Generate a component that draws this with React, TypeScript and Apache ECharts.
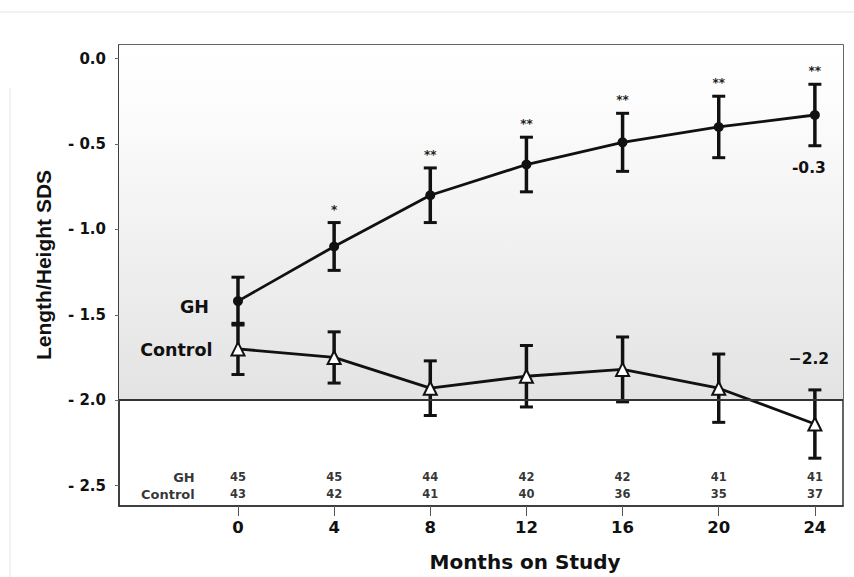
import React, { useEffect, useRef } from "react";
import * as echarts from "echarts";

const months = [0, 4, 8, 12, 16, 20, 24];
const ghMean = [-1.42, -1.1, -0.8, -0.62, -0.49, -0.4, -0.33];
const ghSE = [0.14, 0.14, 0.16, 0.16, 0.17, 0.18, 0.18];
const controlMean = [-1.7, -1.75, -1.93, -1.86, -1.82, -1.93, -2.14];
const controlSE = [0.15, 0.15, 0.16, 0.18, 0.19, 0.2, 0.2];
const significance = ["", "*", "**", "**", "**", "**", "**"];
const ghN = [45, 45, 44, 42, 42, 41, 41];
const controlN = [43, 42, 41, 40, 36, 35, 37];
const yTicks = [0, -0.5, -1.0, -1.5, -2.0, -2.5];
const endLabels = ["-0.3", "\u22122.2"];
const seriesNames = ["GH", "Control"];

const F = "'DejaVu Sans', sans-serif";
const FY = "'Liberation Sans', Arial, sans-serif";
const INK = "#111";

function errorSeries(means: number[], ses: number[], sigs: string[], name: string) {
  return {
    type: "custom",
    name: name + " SE",
    z: 3,
    silent: true,
    data: means.map((m, i) => [months[i], m, ses[i]]),
    renderItem: (params: any, api: any) => {
      const x = api.value(0);
      const m = api.value(1);
      const se = api.value(2);
      const top = api.coord([x, m + se]);
      const bot = api.coord([x, m - se]);
      const hw = 6.5;
      const children: any[] = [
        { type: "line", shape: { x1: top[0], y1: top[1], x2: bot[0], y2: bot[1] }, style: { stroke: INK, lineWidth: 3.5 } },
        { type: "line", shape: { x1: top[0] - hw, y1: top[1], x2: top[0] + hw, y2: top[1] }, style: { stroke: INK, lineWidth: 3 } },
        { type: "line", shape: { x1: bot[0] - hw, y1: bot[1], x2: bot[0] + hw, y2: bot[1] }, style: { stroke: INK, lineWidth: 3 } },
      ];
      const s = sigs[params.dataIndex];
      if (s) {
        children.push({
          type: "text",
          x: top[0],
          y: top[1] - 13,
          style: { text: s, fill: "#222", font: `bold 12px ${F}`, textAlign: "center", textVerticalAlign: "middle" },
        });
      }
      return { type: "group", children };
    },
  };
}

function countSeries(name: string, counts: number[], rowY: number) {
  return {
    type: "scatter",
    name: name + " N",
    symbolSize: 0,
    silent: true,
    z: 5,
    data: [
      {
        value: [-1.8, rowY],
        label: { show: true, position: "left", distance: 0, formatter: name, fontFamily: F, fontWeight: "bold", fontSize: 13, color: "#000" },
      },
      ...counts.map((n, i) => ({
        value: [months[i], rowY, n],
        label: { show: true, position: "inside", formatter: String(n), fontFamily: F, fontWeight: "bold", fontSize: 11.5, color: "#000" },
      })),
    ],
  };
}

export default function App() {
  const ref = useRef<HTMLDivElement>(null);
  useEffect(() => {
    if (!ref.current) return;
    const chart = echarts.init(ref.current, undefined, { renderer: "svg" });
    const last = months.length - 1;
    const option: any = {
      animation: false,
      backgroundColor: "#fff",
      grid: { left: 119, right: 11, top: 45, bottom: 71, show: true, borderColor: "#333", borderWidth: 1.5 },
      xAxis: {
        type: "value",
        min: -4.95,
        max: 25.17,
        splitLine: { show: false },
        axisLine: { show: true, onZero: false, lineStyle: { color: "#333", width: 1.5 } },
        axisTick: { show: true, customValues: months, length: 10, lineStyle: { color: "#555" } },
        axisLabel: { customValues: months, margin: 13, fontFamily: F, fontWeight: "bold", fontSize: 16.5, color: INK },
      },
      yAxis: {
        type: "value",
        min: -2.62,
        max: 0.08,
        splitLine: { show: false },
        axisLine: { show: true, onZero: false, lineStyle: { color: "#333", width: 1.5 } },
        axisTick: { show: true, customValues: yTicks, length: 4, lineStyle: { color: "#666" } },
        axisLabel: {
          customValues: yTicks,
          margin: 13,
          fontFamily: F,
          fontWeight: "bold",
          fontSize: 15,
          color: INK,
          formatter: (v: number) => (Math.abs(v) < 1e-9 ? "0.0" : "- " + Math.abs(v).toFixed(1)),
        },
      },
      graphic: [
        { type: "line", shape: { x1: 0, y1: 12, x2: 854, y2: 12 }, style: { stroke: "#e4e4e4", lineWidth: 1 }, silent: true },
        { type: "line", shape: { x1: 10, y1: 88, x2: 10, y2: 577 }, style: { stroke: "#e4e4e4", lineWidth: 1 }, silent: true },
        { type: "text", x: 138, y: 68, style: { text: "Mean\u00a0\u00a0\u00b1 SE", font: `bold 13.5px ${F}`, fill: INK, textVerticalAlign: "middle" } },
        { type: "text", x: 140, y: 98, style: { text: "*p < 0.05; ** p < 0.0001", font: `bold 13.5px ${F}`, fill: INK, textVerticalAlign: "middle" } },
        { type: "text", x: 525, y: 562, style: { text: "Months on Study", font: `bold 20px ${F}`, fill: INK, textAlign: "center", textVerticalAlign: "middle" } },
        {
          type: "text",
          x: 43,
          y: 265,
          rotation: Math.PI / 2,
          style: { text: "Length/Height SDS", font: `bold 21px ${FY}`, fill: INK, textAlign: "center", textVerticalAlign: "middle" },
        },
      ],
      series: [
        {
          type: "line",
          name: "background",
          data: [],
          z: 1,
          silent: true,
          markArea: {
            silent: true,
            itemStyle: {
              opacity: 1,
              color: new echarts.graphic.LinearGradient(0, 0, 0, 1, [
                { offset: 0, color: "#ffffff" },
                { offset: 0.15, color: "#fdfdfd" },
                { offset: 1, color: "#e3e3e3" },
              ]),
            },
            data: [[{ yAxis: 0.08 }, { yAxis: -2.0 }]],
          },
          markLine: {
            silent: true,
            symbol: ["none", "none"],
            label: { show: false },
            lineStyle: { color: "#333", width: 2, type: "solid" },
            data: [{ yAxis: -2.0 }],
          },
        },
        errorSeries(ghMean, ghSE, significance, seriesNames[0]),
        errorSeries(controlMean, controlSE, [], seriesNames[1]),
        {
          type: "line",
          name: seriesNames[0],
          z: 4,
          symbol: "circle",
          symbolSize: 10,
          itemStyle: { color: INK },
          lineStyle: { color: INK, width: 2.8 },
          data: ghMean.map((v, i) => {
            if (i === 0)
              return {
                value: [months[i], v],
                label: { show: true, position: "left", distance: 24, offset: [0, 6], formatter: seriesNames[0], fontFamily: F, fontWeight: "bold", fontSize: 17.5, color: INK },
              };
            if (i === last)
              return {
                value: [months[i], v],
                label: { show: true, position: "bottom", distance: 4, offset: [-6, 36], formatter: endLabels[0], fontFamily: F, fontWeight: "bold", fontSize: 15.5, color: INK },
              };
            return [months[i], v];
          }),
        },
        {
          type: "line",
          name: seriesNames[1],
          z: 4,
          symbol: "triangle",
          symbolSize: 13,
          itemStyle: { color: "#fff", borderColor: INK, borderWidth: 2 },
          lineStyle: { color: INK, width: 2.8 },
          data: controlMean.map((v, i) => {
            if (i === 0)
              return {
                value: [months[i], v],
                label: { show: true, position: "left", distance: 18, offset: [0, 1], formatter: seriesNames[1], fontFamily: F, fontWeight: "bold", fontSize: 17.5, color: INK },
              };
            if (i === last)
              return {
                value: [months[i], v],
                label: { show: true, position: "top", distance: 4, offset: [-6, -46], formatter: endLabels[1], fontFamily: F, fontWeight: "bold", fontSize: 15.5, color: INK },
              };
            return [months[i], v];
          }),
        },
        countSeries(seriesNames[0], ghN, -2.452),
        countSeries(seriesNames[1], controlN, -2.55),
      ],
    };
    chart.setOption(option);
    return () => chart.dispose();
  }, []);
  return <div ref={ref} style={{ position: "absolute", left: 0, top: 0, width: 854, height: 577 }} />;
}
